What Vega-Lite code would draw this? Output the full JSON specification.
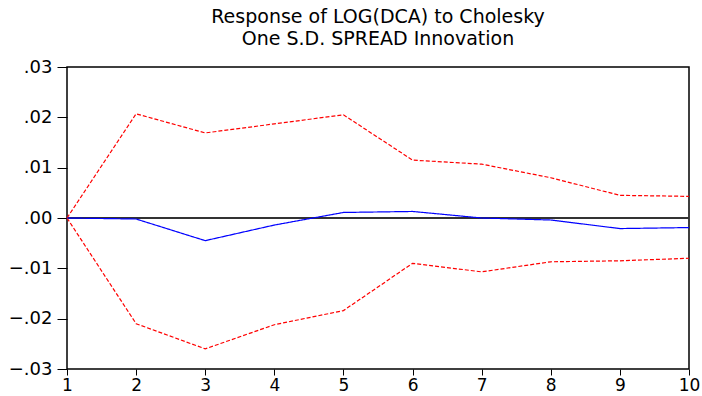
{
  "$schema": "https://vega.github.io/schema/vega-lite/v6.json",
  "width": 622,
  "height": 302,
  "autosize": "none",
  "padding": {"left": 67, "top": 67, "right": 13, "bottom": 27},
  "background": "white",
  "title": {
    "text": ["Response of LOG(DCA) to Cholesky", "One S.D. SPREAD Innovation"],
    "font": "DejaVu Sans",
    "fontSize": 19,
    "fontWeight": "normal",
    "color": "black",
    "anchor": "middle",
    "offset": 9,
    "lineHeight": 22
  },
  "config": {
    "view": {"stroke": "black", "strokeWidth": 1.5},
    "axis": {
      "labelFont": "DejaVu Sans",
      "labelFontSize": 18,
      "labelColor": "black",
      "tickColor": "black",
      "domain": false,
      "grid": false,
      "title": null
    }
  },
  "data": {
    "values": [
      {"period": 1, "series": "upper", "value": 0},
      {"period": 2, "series": "upper", "value": 0.0207},
      {"period": 3, "series": "upper", "value": 0.0169},
      {"period": 4, "series": "upper", "value": 0.0187},
      {"period": 5, "series": "upper", "value": 0.0205},
      {"period": 6, "series": "upper", "value": 0.0115},
      {"period": 7, "series": "upper", "value": 0.0107},
      {"period": 8, "series": "upper", "value": 0.0080},
      {"period": 9, "series": "upper", "value": 0.0045},
      {"period": 10, "series": "upper", "value": 0.0043},
      {"period": 1, "series": "lower", "value": 0},
      {"period": 2, "series": "lower", "value": -0.0210},
      {"period": 3, "series": "lower", "value": -0.0260},
      {"period": 4, "series": "lower", "value": -0.0212},
      {"period": 5, "series": "lower", "value": -0.0184},
      {"period": 6, "series": "lower", "value": -0.0090},
      {"period": 7, "series": "lower", "value": -0.0107},
      {"period": 8, "series": "lower", "value": -0.0087},
      {"period": 9, "series": "lower", "value": -0.0085},
      {"period": 10, "series": "lower", "value": -0.0080},
      {"period": 1, "series": "response", "value": 0},
      {"period": 2, "series": "response", "value": -0.0002},
      {"period": 3, "series": "response", "value": -0.0045},
      {"period": 4, "series": "response", "value": -0.0014},
      {"period": 5, "series": "response", "value": 0.0011},
      {"period": 6, "series": "response", "value": 0.0013},
      {"period": 7, "series": "response", "value": 0.0000},
      {"period": 8, "series": "response", "value": -0.0004},
      {"period": 9, "series": "response", "value": -0.0021},
      {"period": 10, "series": "response", "value": -0.0019}
    ]
  },
  "layer": [
    {
      "mark": {"type": "rule", "color": "#333333", "strokeWidth": 1},
      "encoding": {"y": {"datum": 0, "type": "quantitative"}}
    },
    {
      "mark": {"type": "line", "strokeWidth": 1.2},
      "encoding": {
        "x": {
          "field": "period",
          "type": "quantitative",
          "scale": {"domain": [1, 10], "nice": false, "zero": false},
          "axis": {"values": [1, 2, 3, 4, 5, 6, 7, 8, 9, 10], "tickSize": 6, "labelPadding": 2, "labelFontSize": 17, "labelFlush": false}
        },
        "y": {
          "field": "value",
          "type": "quantitative",
          "scale": {"domain": [-0.03, 0.03], "nice": false},
          "axis": {
            "values": [-0.03, -0.02, -0.01, 0, 0.01, 0.02, 0.03],
            "labelExpr": "replace(format(datum.value, '.2f'), '0.', '.')",
            "tickSize": 10,
            "labelPadding": 5
          }
        },
        "detail": {"field": "series"},
        "color": {
          "field": "series",
          "type": "nominal",
          "scale": {"domain": ["upper", "lower", "response"], "range": ["#ff0000", "#ff0000", "#0000ff"]},
          "legend": null
        },
        "strokeDash": {
          "field": "series",
          "type": "nominal",
          "scale": {"domain": ["upper", "lower", "response"], "range": [[4, 2], [4, 2], [1, 0]]},
          "legend": null
        }
      }
    }
  ]
}
